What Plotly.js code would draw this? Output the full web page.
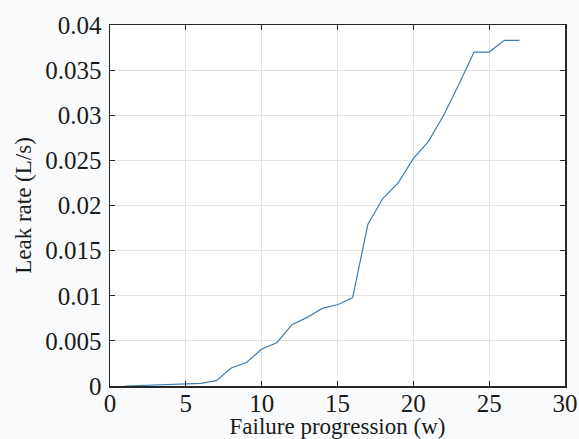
<!DOCTYPE html>
<html>
<head>
<meta charset="utf-8">
<script src="https://cdn.plot.ly/plotly-3.0.1.min.js"></script>
<style>html,body{margin:0;padding:0;background:#f9fafc;}</style>
</head>
<body>
<div id="chart" style="width:579px;height:439px;"></div>
<script>
const weeks = [1,2,3,4,5,6,7,8,9,10,11,12,13,14,15,16,17,18,19,20,21,22,23,24,25,26,27];
const leakRate = [0,0.00005,0.0001,0.00015,0.0002,0.0003,0.0006,0.002,0.0026,0.0041,0.0048,0.0068,0.0076,0.0086,0.009,0.0098,0.0179,0.0208,0.0225,0.0252,0.0271,0.0300,0.0334,0.0370,0.0370,0.0383,0.0383];
const xTicks = [0,5,10,15,20,25,30];
const yTicks = [0,0.005,0.01,0.015,0.02,0.025,0.03,0.035,0.04];
const yTickText = ['0','0.005','0.01','0.015','0.02','0.025','0.03','0.035','0.04'];

const fam = 'Liberation Serif, Times New Roman, serif';
const tickFont = {family:fam, size:25, color:'#1a1a1a'};
const titleFont = {family:fam, size:23, color:'#1a1a1a'};
Plotly.newPlot('chart', [{
  x: weeks, y: leakRate, type:'scatter', mode:'lines',
  line:{color:'#3f7db0', width:1.2}
}], {
  width:579, height:439,
  margin:{l:110, r:14, t:25, b:53},
  paper_bgcolor:'#f9fafc', plot_bgcolor:'#ffffff',
  showlegend:false,
  font:{family:fam, size:24, color:'#1a1a1a'},
  xaxis:{
    range:[0,30], tickvals:xTicks, ticks:'inside', ticklen:5, tickcolor:'#262626',
    showline:true, linecolor:'#262626', linewidth:1.5, mirror:'ticks',
    showgrid:true, gridcolor:'#e3e3e3', gridwidth:1, zeroline:false,
    tickfont:tickFont, ticklabelstandoff:-6,
    title:{text:'Failure progression (w)', font:titleFont, standoff:0}
  },
  yaxis:{
    range:[0,0.04], tickvals:yTicks, ticktext:yTickText, ticks:'inside', ticklen:5, tickcolor:'#262626',
    showline:true, linecolor:'#262626', linewidth:1.5, mirror:'ticks',
    showgrid:true, gridcolor:'#e3e3e3', gridwidth:1, zeroline:false,
    tickfont:tickFont, ticklabelstandoff:2,
    title:{text:'Leak rate (L/s)', font:titleFont, standoff:7}
  }
}, {staticPlot:true});
</script>
</body>
</html>
